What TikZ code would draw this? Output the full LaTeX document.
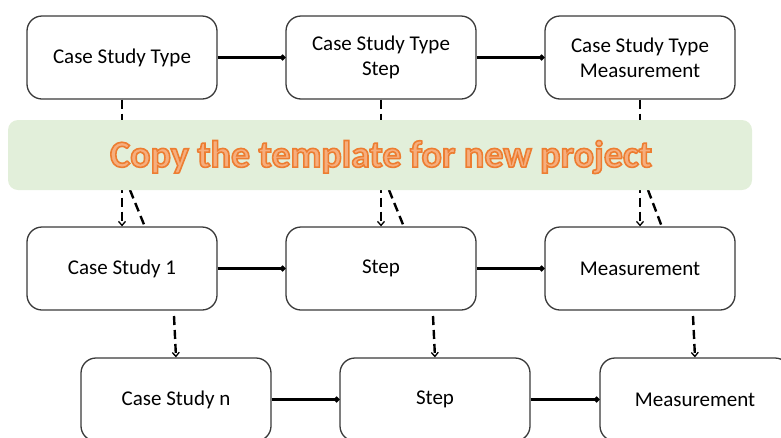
\documentclass[tikz,border=0pt]{standalone}
\usepackage{fontspec}
\setmainfont{Carlito}
\usetikzlibrary{arrows.meta}
\definecolor{boxline}{HTML}{3A3A3A}
\definecolor{bannerfill}{HTML}{E2EFDA}
\definecolor{titlefill}{HTML}{F6AE7E}
% outlined text: fill in the current colour, stroke in orange
\newcommand{\outlined}[1]{\special{pdf:literal 2 Tr 1.6 w 0.929 0.490 0.192 RG}#1\special{pdf:literal 0 Tr}}
\tikzset{
  entity/.style={draw=boxline, line width=1.3pt, rounded corners=15pt, fill=white,
    minimum width=190pt, minimum height=83pt, align=center, inner sep=2pt,
    font=\fontsize{21}{25}\selectfont},
  link/.style={line width=2.4pt, -{Circle[length=5.5pt]}},
  flow/.style={line width=2.4pt, dash pattern=on 9pt off 5pt, -{Straight Barb[length=4pt,width=7pt,line width=1.3pt]}},
  flowplain/.style={line width=2.4pt, dash pattern=on 9pt off 5pt},
  title/.style={font=\fontsize{38}{40}\selectfont\bfseries, inner sep=0pt},
}
\begin{document}
\begin{tikzpicture}[x=1pt,y=-1pt]
  \useasboundingbox (0,0) rectangle (781,437);
  \clip (0,0) rectangle (781,437);

  % template row
  \node[entity] (tA) at (122,57.5) {Case Study Type};
  \node[entity] (tB) at (381,57.5) {Case Study Type\\Step};
  \node[entity] (tC) at (640,57.5) {Case Study Type\\Measurement};

  % first case study
  \node[entity] (pA) at (122,268.5) {Case Study 1};
  \node[entity] (pB) at (381,268.5) {Step};
  \node[entity] (pC) at (640,268.5) {Measurement};

  % n-th case study
  \node[entity] (nA) at (176,399.5) {Case Study n};
  \node[entity] (nB) at (435,399.5) {Step};
  \node[entity] (nC) at (695,399.5) {Measurement};

  % links inside each row
  \draw[link] (tA.east) -- (tB.west);
  \draw[link] (tB.east) -- (tC.west);
  \draw[link] (pA.east) -- (pB.west);
  \draw[link] (pB.east) -- (pC.west);
  \draw[link] (nA.east) -- (nB.west);
  \draw[link] (nB.east) -- (nC.west);

  % copies from the template row
  \foreach \s/\t in {tA/pA, tB/pB, tC/pC}{
    \draw[flow] (\s.south) -- (\t.north);
  }
  \coordinate (sA) at (130,190); \coordinate (eA) at (145,227);
  \coordinate (sB) at (389,190); \coordinate (eB) at (404,227);
  \coordinate (sC) at (648,190); \coordinate (eC) at (662,227);
  \draw[flowplain] (sA) -- (eA);
  \draw[flowplain] (sB) -- (eB);
  \draw[flowplain] (sC) -- (eC);

  % copies to the n-th case study
  \coordinate (dA) at (174,316); \coordinate (dB) at (433,316); \coordinate (dC) at (693,316);
  \draw[flow] (dA) -- (nA.north);
  \draw[flow] (dB) -- (nB.north);
  \draw[flow] (dC) -- (nC.north);

  % banner
  \node[draw=none, fill=bannerfill, rounded corners=10pt, minimum width=744pt, minimum height=70pt,
        inner sep=0pt] (banner) at (380,155) {};
  \node[title, text=titlefill] (caption) at (381,157) {\outlined{Copy the template for new project}};
\end{tikzpicture}
\end{document}
